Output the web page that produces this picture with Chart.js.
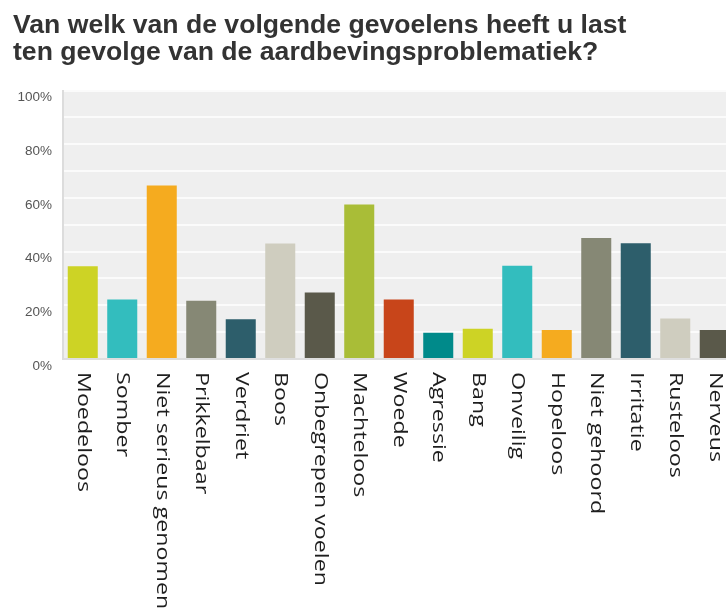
<!DOCTYPE html>
<html>
<head>
<meta charset="utf-8">
<script src="https://cdn.jsdelivr.net/npm/chart.js@4/dist/chart.umd.min.js"></script>
<style>
  html, body { margin: 0; padding: 0; background: #ffffff; overflow: hidden; }
  #wrap { position: relative; width: 740px; height: 610px; }
</style>
</head>
<body>
<div id="wrap"><canvas id="c"></canvas></div>
<script>
const titleLines = [
  'Van welk van de volgende gevoelens heeft u last',
  'ten gevolge van de aardbevingsproblematiek?'
];
const categories = [
  'Moedeloos', 'Somber', 'Niet serieus genomen', 'Prikkelbaar', 'Verdriet',
  'Boos', 'Onbegrepen voelen', 'Machteloos', 'Woede', 'Agressie', 'Bang',
  'Onveilig', 'Hopeloos', 'Niet gehoord', 'Irritatie', 'Rusteloos', 'Nerveus'
];
const percentages = [
  34.6, 22.2, 64.6, 21.7, 14.8, 43.0, 24.8, 57.6, 22.2, 9.8, 11.3,
  34.7, 10.8, 45.1, 43.1, 15.1, 10.8
];
const barColors = [
  '#cdd325', '#33bdbe', '#f5ab1f', '#868875', '#2d5e6b', '#cfcdbf',
  '#5a594a', '#a9bd37', '#c8451a', '#008a8a', '#cdd325', '#33bdbe',
  '#f5ab1f', '#868875', '#2d5e6b', '#cfcdbf', '#5a594a'
];
const yTickValues = [0, 20, 40, 60, 80, 100];

const plotBackground = {
  id: 'plotBackground',
  beforeDraw(chart) {
    const { ctx, chartArea: a } = chart;
    ctx.save();
    ctx.fillStyle = '#efefef';
    ctx.fillRect(a.left, a.top, a.right - a.left, a.bottom - a.top);
    ctx.restore();
  }
};

const rotatedLabels = {
  id: 'rotatedLabels',
  afterDraw(chart) {
    const { ctx, chartArea: a } = chart;
    const xs = chart.scales.x;
    ctx.save();
    ctx.font = '18px "Open Sans"';
    ctx.fillStyle = '#1e1e1e';
    ctx.textAlign = 'left';
    ctx.textBaseline = 'middle';
    xs.ticks.forEach((t, i) => {
      const x = xs.getPixelForTick(i);
      ctx.save();
      ctx.translate(x, a.bottom + 13);
      ctx.rotate(Math.PI / 2);
      ctx.scale(1.29, 1);
      ctx.fillText(categories[i], 0, 0);
      ctx.restore();
    });
    ctx.restore();
  }
};

new Chart(document.getElementById('c'), {
  type: 'bar',
  data: {
    labels: categories,
    datasets: [{
      data: percentages,
      backgroundColor: barColors,
      borderWidth: 0,
      categoryPercentage: 1,
      barPercentage: 0.76
    }]
  },
  options: {
    responsive: true,
    maintainAspectRatio: false,
    animation: false,
    layout: { padding: { left: 13, right: 5.5, top: 0, bottom: 0 } },
    plugins: {
      legend: { display: false },
      tooltip: { enabled: false },
      title: {
        display: true,
        text: titleLines,
        align: 'start',
        color: '#333333',
        font: { family: '"Liberation Sans", Arial, sans-serif', size: 26.6, weight: 'bold', lineHeight: 1.0 },
        padding: { top: 12.5, bottom: 24.9 }
      }
    },
    scales: {
      x: {
        grid: { display: false },
        border: { display: true, color: '#dedede', width: 2 },
        ticks: { display: false },
        afterFit(scale) { scale.height = 251; }
      },
      y: {
        min: 0,
        max: 100,
        grid: { color: '#fbfbfb', lineWidth: 2, drawTicks: false },
        border: { display: true, color: '#dcdcdc', width: 2 },
        ticks: {
          stepSize: 10,
          padding: 11,
          labelOffset: 7,
          color: '#555555',
          font: { family: '"Liberation Sans", Arial, sans-serif', size: 13.5 },
          callback: (v) => yTickValues.includes(v) ? v + '%' : ''
        },
        afterFit(scale) { scale.width = 50; }
      }
    }
  },
  plugins: [plotBackground, rotatedLabels]
});
</script>
</body>
</html>
